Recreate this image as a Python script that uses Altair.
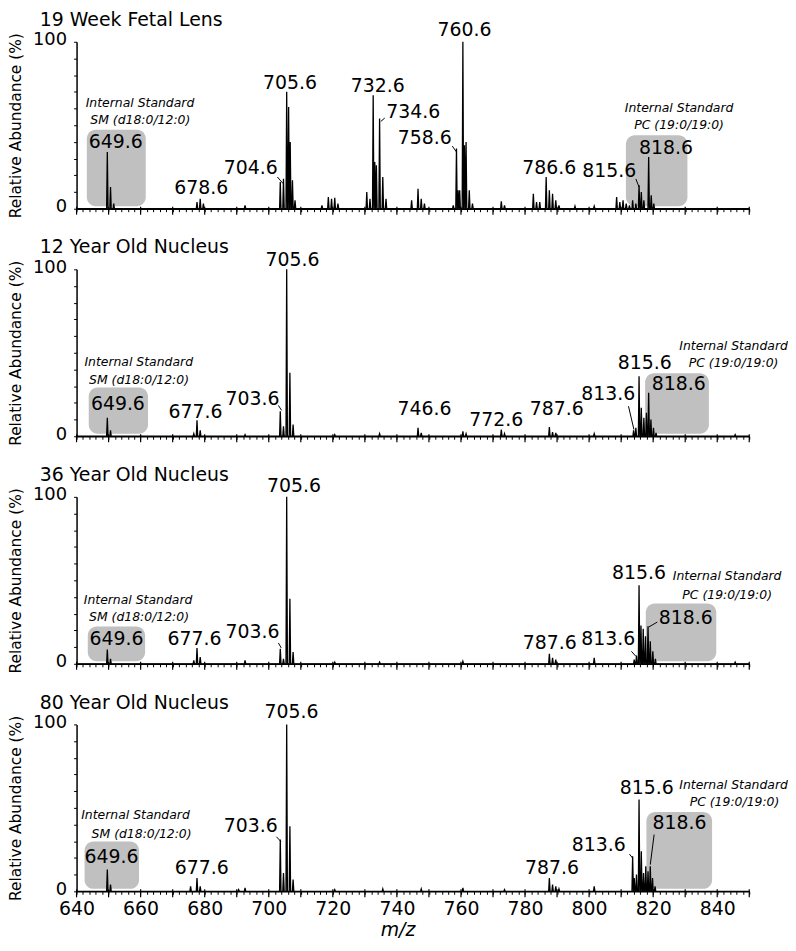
import altair as alt
import pandas as pd

FONT = "DejaVu Sans"
W, H = 677, 168

titles = ["19 Week Fetal Lens", "12 Year Old Nucleus", "36 Year Old Nucleus", "80 Year Old Nucleus"]

# ---- spectra: peak m/z and relative abundance (%) ----
p1_mz = [649.6, 650.6, 651.6, 677.6, 678.6, 679.6, 692.6, 703.6, 704.6, 705.6, 706.2, 706.7, 707.4, 708.2,
         716.6, 718.6, 719.6, 720.6, 721.6, 730.6, 731.6, 732.6, 733.1, 733.6, 734.6, 735.6, 736.6,
         744.6, 746.6, 747.6, 748.6, 757.6, 758.6, 759.1, 759.6, 760.6, 761.1, 761.6, 762.6, 763.6,
         772.6, 773.6, 782.6, 783.6, 784.6, 786.6, 787.6, 788.6, 789.6, 790.6, 795.6, 801.6,
         808.6, 809.6, 810.6, 811.6, 812.6, 813.6, 814.6, 815.6, 816.3, 817.1, 818.6, 819.4, 820.2]
p1_ab = [34, 13, 3, 4, 6, 3, 2, 16, 18, 70, 61, 40, 17, 5,
         2, 7, 6, 6.5, 3, 10, 6, 68, 28, 26, 54, 19, 6,
         5, 12, 6, 3, 2, 36, 11, 11, 100, 38, 40, 11, 3,
         4.5, 2, 9, 4, 4, 19, 11, 9, 5, 2, 1.5, 1.5,
         7, 4, 5, 3, 2, 5, 3, 14, 10, 5, 31, 8, 3]

p2_mz = [649.6, 650.6, 676.6, 677.6, 678.6, 692.6, 703.6, 704.6, 705.6, 706.6, 707.6, 720.6, 734.6,
         746.6, 747.6, 760.6, 761.6, 772.6, 773.6, 787.6, 788.6, 789.6, 801.6,
         813.9, 814.6, 815.6, 816.3, 817.1, 817.9, 818.6, 819.3, 820.1, 820.9, 845.6]
p2_ab = [11, 3.5, 1.5, 9.5, 3.5, 1, 15, 6, 100, 38, 7, 1, 1.5,
         5, 2, 3, 1.5, 4, 1.5, 5.5, 2.5, 2, 1.5,
         3.5, 5, 36, 17, 11, 14, 26, 10, 5, 2, 1]

p3_mz = [649.6, 650.6, 676.6, 677.6, 678.6, 692.6, 703.6, 704.6, 705.6, 706.6, 707.6, 720.6, 734.6,
         760.6, 787.6, 788.6, 789.6, 801.6,
         814.1, 814.8, 815.6, 816.2, 816.9, 817.6, 818.4, 819.1, 819.9, 820.7, 845.6]
p3_ab = [8.5, 3, 2, 9.5, 4, 2, 9, 3, 100, 39, 7, 1, 1,
         1.5, 6, 3.5, 2.5, 3.5,
         2.5, 5, 47, 23, 21, 16.5, 22.5, 13.5, 7.5, 3, 1]

p4_mz = [649.6, 650.6, 675.6, 677.6, 678.6, 690.6, 692.6, 703.6, 704.6, 705.6, 706.6, 707.6,
         720.6, 735.6, 747.6, 760.6, 773.6, 787.6, 788.6, 789.6, 790.6, 801.6,
         813.6, 814.1, 814.8, 815.6, 816.3, 817.0, 817.7, 818.4, 819.1, 819.8, 820.6]
p4_ab = [13, 4, 3, 8, 3, 1, 2, 31, 11, 100, 39, 7,
         1, 1.5, 1.5, 2, 1, 8, 4, 3, 1.5, 3,
         21, 8, 10, 55, 24, 11, 15, 12, 15, 8, 3]

# ---- peak labels ----
l1_text = ["649.6", "678.6", "704.6", "705.6", "732.6", "734.6", "758.6", "760.6", "786.6", "815.6", "818.6"]
l1_x = [652.2, 678.9, 694.4, 706.6, 734.0, 745.1, 748.7, 761.1, 787.6, 806.3, 824.0]
l1_y = [36.5, 8.9, 20.5, 72, 70, 54.2, 38.5, 103.6, 20.7, 18.8, 32.5]

l2_text = ["649.6", "677.6", "703.6", "705.6", "746.6", "772.6", "787.6", "813.6", "815.6", "818.6"]
l2_x = [652.9, 677.1, 694.9, 707.4, 748.6, 771.0, 789.9, 806.0, 817.4, 828.0]
l2_y = [16, 11.1, 18.9, 102.2, 12.5, 6.2, 12.5, 21.5, 40.4, 27.7]

l3_text = ["649.6", "677.6", "703.6", "705.6", "787.6", "813.6", "815.6", "818.6"]
l3_x = [652.5, 676.8, 694.9, 707.9, 787.7, 806.0, 815.6, 830.2]
l3_y = [11.4, 11.4, 15.4, 103.1, 9.1, 11.4, 50.9, 23.7]

l4_text = ["649.6", "677.6", "703.6", "705.6", "787.6", "813.6", "815.6", "818.6"]
l4_x = [650.9, 679.1, 694.4, 707.1, 788.4, 803.0, 818.0, 828.2]
l4_y = [17, 10.4, 35.7, 103.7, 10.4, 23.9, 58.4, 37.3]

# ---- internal standard annotations ----
is_text = ["Internal Standard", "SM (d18:0/12:0)", "Internal Standard", "PC (19:0/19:0)"]
is1_x = [659.8, 659.9, 828.1, 828.1]
is1_y = [61, 51, 58.2, 47.9]
is2_x = [659.4, 659.5, 845.1, 845.1]
is2_y = [42.3, 31.3, 51.5, 41.3]
is3_x = [659.2, 659.5, 843.1, 843.1]
is3_y = [36.1, 25.6, 49.9, 38.6]
is4_x = [658.4, 660.3, 845.1, 845.4]
is4_y = [43.2, 32.1, 61.4, 51.1]

# ---- shaded boxes around internal standards ----
b1_x1, b1_x2, b1_top = [643.2, 811.5], [661.6, 830.7], [47.3, 44.0]
b2_x1, b2_x2, b2_top = [643.8, 817.5], [662.3, 837.4], [29.2, 37.8]
b3_x1, b3_x2, b3_top = [643.5, 817.7], [661.4, 839.7], [22.3, 36.1]
b4_x1, b4_x2, b4_top = [642.5, 817.9], [659.5, 838.4], [29.8, 47.5]
box_bottom = 1.5

# ---- leader lines (label -> peak) ----
ld1 = dict(x1=[702.7, 736.2, 757.3, 814.6], y1=[19.0, 54.3, 37.5, 17.8],
           x2=[704.5, 735.0, 758.6, 815.6], y2=[15.0, 52.3, 34.0, 13.0])
ld2 = dict(x1=[703.0, 812.3], y1=[18.5, 18.0], x2=[704.0, 814.0], y2=[15.5, 4.0])
ld3 = dict(x1=[703.0, 813.2, 818.6], y1=[12.5, 7.5, 22.0], x2=[703.9, 814.6, 821.3], y2=[9.5, 4.5, 25.0])
ld4 = dict(x1=[702.4, 812.6, 819.1], y1=[32.7, 22.3, 16.0], x2=[703.8, 813.6, 820.3], y2=[29.8, 19.9, 34.0])

minor_ticks = list(range(640, 851, 2))
major_ticks = list(range(640, 851, 10))
y_ticks = list(range(0, 101, 10))

XS = alt.Scale(domain=[640, 850], nice=False, zero=False)
YS = alt.Scale(domain=[0, 100], nice=False)


def profile(mz, ab):
    xs, ys = [640.0], [0.0]
    for m, h in sorted(zip(mz, ab)):
        xs += [m - 0.22, m, m + 0.22]
        ys += [0.0, h, 0.0]
    xs.append(850.0)
    ys.append(0.0)
    return pd.DataFrame({"mz": xs, "ab": ys, "o": list(range(len(xs)))})


def panel(title, mz, ab, lt, lx, ly, isx, isy, bx1, bx2, btop, ld, bottom):
    if bottom:
        xaxis = alt.Axis(values=minor_ticks, tickSize=3, tickColor="black", domainColor="black",
                         domainWidth=1.5, grid=False, labelExpr="datum.value % 20 === 0 ? datum.label : ''",
                         labelOverlap=False, labelFlush=False, labelFont=FONT, labelFontSize=19,
                         labelColor="black", labelPadding=5, title="m/z", titleFont=FONT,
                         titleFontStyle="italic", titleFontWeight="normal", titleFontSize=19,
                         titleColor="black", titlePadding=2, titleX=323)
    else:
        xaxis = alt.Axis(values=minor_ticks, tickSize=3, tickColor="black", domainColor="black",
                         domainWidth=1.5, grid=False, labels=False, title=None)
    yaxis = alt.Axis(values=y_ticks, tickSize=3, tickColor="black", domainColor="black", domainWidth=1.5,
                     grid=False, labelExpr="datum.value == 0 || datum.value == 100 ? datum.label : ''",
                     labelFont=FONT, labelFontSize=18, labelColor="black", labelPadding=7, labelOffset=-2,
                     title="Relative Abundance (%)", titleFont=FONT, titleFontSize=15.5,
                     titleFontWeight="normal", titleColor="black", titlePadding=9)

    def X(f):
        return alt.X(f, type="quantitative", scale=XS, axis=xaxis)

    def Y(f):
        return alt.Y(f, type="quantitative", scale=YS, axis=yaxis)

    boxes = alt.Chart(pd.DataFrame({"x1": bx1, "x2": bx2, "y1": [box_bottom] * len(bx1), "y2": btop})).mark_rect(
        color="#c0c0c0", cornerRadius=9).encode(x=X("x1"), x2="x2", y=Y("y1"), y2="y2")

    line = alt.Chart(profile(mz, ab)).mark_line(color="black", strokeWidth=1.3).encode(
        x=X("mz"), y=Y("ab"), order="o:Q")

    majors = alt.Chart(pd.DataFrame({"t": major_ticks})).mark_rule(color="black", strokeWidth=1.2).encode(
        x=X("t"), y=alt.value(H - 2), y2=alt.value(H + 6))

    leaders = alt.Chart(pd.DataFrame(ld)).mark_rule(color="black", strokeWidth=1).encode(
        x=X("x1"), x2="x2", y=Y("y1"), y2="y2")

    labels = alt.Chart(pd.DataFrame({"t": lt, "x": lx, "y": ly})).mark_text(
        font=FONT, fontSize=19, align="center", baseline="alphabetic", color="black").encode(
        x=X("x"), y=Y("y"), text="t:N")

    isl = alt.Chart(pd.DataFrame({"t": is_text, "x": isx, "y": isy})).mark_text(
        font=FONT, fontSize=12.5, fontStyle="italic", align="center", baseline="alphabetic",
        color="black").encode(x=X("x"), y=Y("y"), text="t:N")

    ttl = alt.Chart(pd.DataFrame({"t": [title]})).mark_text(
        font=FONT, fontSize=19, align="left", baseline="alphabetic", color="black").encode(
        x=alt.value(-37), y=alt.value(-16), text="t:N")

    return alt.layer(boxes, line, majors, leaders, labels, isl, ttl).properties(width=W, height=H)


c1 = panel(titles[0], p1_mz, p1_ab, l1_text, l1_x, l1_y, is1_x, is1_y, b1_x1, b1_x2, b1_top, ld1, False)
c2 = panel(titles[1], p2_mz, p2_ab, l2_text, l2_x, l2_y, is2_x, is2_y, b2_x1, b2_x2, b2_top, ld2, False)
c3 = panel(titles[2], p3_mz, p3_ab, l3_text, l3_x, l3_y, is3_x, is3_y, b3_x1, b3_x2, b3_top, ld3, False)
c4 = panel(titles[3], p4_mz, p4_ab, l4_text, l4_x, l4_y, is4_x, is4_y, b4_x1, b4_x2, b4_top, ld4, True)

chart = alt.vconcat(c1, c2, c3, c4, spacing=20).properties(
    padding={"left": 0, "top": 0, "right": 0, "bottom": 0}
).configure_view(stroke=None)

chart.save("out.html", embed_options={"renderer": "svg", "actions": False})
